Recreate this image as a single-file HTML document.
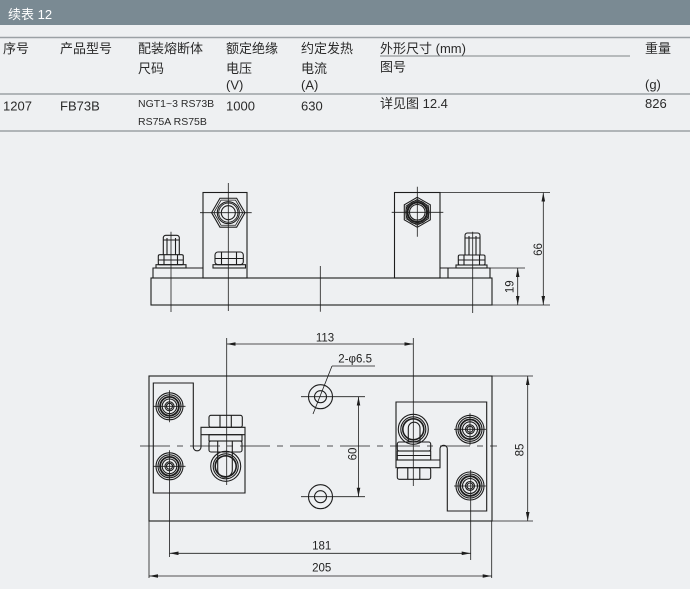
<!DOCTYPE html>
<html><head><meta charset="utf-8"><style>
html,body{margin:0;padding:0;background:#eef0f2;}
svg{display:block;}
.t{font-family:"Liberation Sans","Noto Sans CJK SC",sans-serif;font-size:13px;fill:#2a2a2a;}
.s{font-family:"Liberation Sans","Noto Sans CJK SC",sans-serif;font-size:10.5px;fill:#2a2a2a;}
.d{font-family:"Liberation Sans",sans-serif;font-size:11.5px;fill:#222;}
</style></head><body>
<svg width="690" height="589" viewBox="0 0 690 589" xmlns="http://www.w3.org/2000/svg">
<defs>
<marker id="ar" viewBox="0 0 10 4" refX="10" refY="2" markerWidth="9" markerHeight="3.6" markerUnits="userSpaceOnUse" orient="auto-start-reverse"><path d="M0 0L10 2L0 4Z" fill="#1d1d1d" stroke="none"/></marker>
</defs>
<rect width="690" height="589" fill="#eef0f2"/>
<rect width="690" height="25" fill="#7a8a93"/>
<text x="8" y="19" class="t" style="fill:#fff">续表 12</text>
<line x1="0" y1="37.5" x2="690" y2="37.5" stroke="#9ba1a5" stroke-width="1.5"/>
<line x1="0" y1="94" x2="690" y2="94" stroke="#9ba1a5" stroke-width="1.5"/>
<line x1="0" y1="131" x2="690" y2="131" stroke="#9ba1a5" stroke-width="1.5"/>
<line x1="380" y1="56" x2="630" y2="56" stroke="#7d8387" stroke-width="1"/>

<text x="3" y="53" class="t">序号</text>
<text x="60" y="53" class="t">产品型号</text>
<text x="138" y="53" class="t">配装熔断体</text>
<text x="138" y="73" class="t">尺码</text>
<text x="226" y="53" class="t">额定绝缘</text>
<text x="226" y="73" class="t">电压</text>
<text x="226" y="89.5" class="t">(V)</text>
<text x="301" y="53" class="t">约定发热</text>
<text x="301" y="73" class="t">电流</text>
<text x="301" y="89.5" class="t">(A)</text>
<text x="380" y="53" class="t">外形尺寸 (mm)</text>
<text x="380" y="71.5" class="t">图号</text>
<text x="645" y="53" class="t">重量</text>
<text x="645" y="89" class="t">(g)</text>

<text x="3" y="110.5" class="t">1207</text>
<text x="60" y="110.5" class="t">FB73B</text>
<text x="138" y="107" class="s">NGT1~3 RS73B</text>
<text x="138" y="125" class="s">RS75A RS75B</text>
<text x="226" y="110.5" class="t">1000</text>
<text x="301" y="110.5" class="t">630</text>
<text x="380" y="108" class="t">详见图 12.4</text>
<text x="645" y="108" class="t">826</text>

<g fill="none" stroke="#1d1d1d" stroke-width="1.1">
<!-- TOP VIEW -->
<rect x="151" y="278" width="341" height="27"/>
<path d="M153 278V268H203"/>
<rect x="203" y="192.5" width="44" height="85.5"/>
<rect x="394.5" y="192.5" width="45.5" height="85.5"/>
<path d="M440 268H490V278M448 268V278"/>
<!-- left hex -->
<polygon points="245,212.7 236.65,227.16 219.95,227.16 211.6,212.7 219.95,198.24 236.65,198.24"/>
<polygon points="242.8,212.7 235.55,225.26 221.05,225.26 213.8,212.7 221.05,200.14 235.55,200.14" stroke-width="0.8"/>
<circle cx="228.3" cy="212.7" r="11"/>
<circle cx="228.3" cy="212.7" r="9.6" stroke-width="0.9"/>
<circle cx="228.3" cy="212.7" r="7"/>
<!-- right hex -->
<polygon points="417.3,197.3 430.3,204.8 430.3,219.8 417.3,227.3 404.3,219.8 404.3,204.8"/>
<polygon points="417.3,199.3 428.56,205.8 428.56,218.8 417.3,225.3 406.04,218.8 406.04,205.8" stroke-width="0.8"/>
<circle cx="417.3" cy="212.3" r="11.5"/>
<circle cx="417.3" cy="212.3" r="9.8" stroke-width="2"/>
<circle cx="417.3" cy="212.3" r="7.8"/>
<!-- left bolt -->
<path d="M163.3 254.7V238a2.5 2.5 0 0 1 2.5-2.7h11a2.5 2.5 0 0 1 2.5 2.7V254.7M167 238V254.7M175.5 238V254.7M163.3 240H179.3"/>
<rect x="158.3" y="254.7" width="25" height="10" rx="1.5"/>
<path d="M164 254.7V264.7M177.5 254.7V264.7M158.3 260H183.3"/>
<rect x="156" y="264.7" width="30" height="3.3"/>
<!-- middle nut -->
<rect x="215" y="252" width="28.3" height="12.7" rx="3"/>
<path d="M221.5 252V264.7M236.5 252V264.7M215 258.5H243.3"/>
<rect x="213" y="264.7" width="32.5" height="3.3"/>
<!-- right bolt -->
<path d="M465 255V236a2.5 2.5 0 0 1 2.5-3h10a2.5 2.5 0 0 1 2.5 3V255M469 236V255M476 236V255M465 238H480"/>
<rect x="458.3" y="255" width="26.7" height="10" rx="1.5"/>
<path d="M464 255V265M479.5 255V265M458.3 260H485"/>
<rect x="456" y="265" width="31" height="3"/>
</g>
<g fill="none" stroke="#1d1d1d" stroke-width="0.8">
<path d="M200 212.7H251.7M228.3 183V311M391.7 212.3H443.3M417.3 186.7V236.7M171 231.7V312M320.3 266V311.7M472.7 231.7V313"/>
<path d="M440 192.5H550M492 305H550M490 268H525"/>
<path d="M543.3 192.5V305" marker-start="url(#ar)" marker-end="url(#ar)"/>
<path d="M517.7 268V305" marker-start="url(#ar)" marker-end="url(#ar)"/>
</g>
<text class="d" text-anchor="middle" transform="translate(542,249.5) rotate(-90)">66</text>
<text class="d" text-anchor="middle" transform="translate(513.5,286.7) rotate(-90)">19</text>

<!-- BOTTOM VIEW -->
<g fill="none" stroke="#1d1d1d" stroke-width="1.1">
<rect x="149" y="376" width="343" height="145"/>
<!-- left plate -->
<path d="M153.3 383H193.3V447A3.85 3.85 0 0 0 201 447V427.3H245V493H153.3Z"/>
<path d="M201 434.7H245"/>
<rect x="209" y="415.3" width="33.3" height="12" rx="2"/>
<path d="M220 415.3V427.3M231.3 415.3V427.3"/>
<circle cx="225.7" cy="466.3" r="15"/>
<circle cx="225.7" cy="466.3" r="12.5"/>
<circle cx="225.7" cy="466.3" r="10.5" stroke-width="1.6"/>
<rect x="209" y="434.7" width="33" height="6.3"/>
<rect x="209" y="441" width="33" height="11" rx="2"/>
<path d="M217.7 441V470A7.3 7.3 0 0 0 232.3 470V441"/>
<!-- left studs -->
<g transform="translate(169.5,406.3)"><circle r="13.5"/><circle r="11.5"/><circle r="9.4" stroke-width="1.8"/><circle r="7.3"/><circle r="4.5"/><circle r="3"/></g>
<g transform="translate(169.5,466.3)"><circle r="13.5"/><circle r="11.5"/><circle r="9.4" stroke-width="1.8"/><circle r="7.3"/><circle r="4.5"/><circle r="3"/></g>
<!-- holes -->
<circle cx="320.5" cy="396.7" r="12"/><circle cx="320.5" cy="396.7" r="6"/>
<circle cx="320.5" cy="496.7" r="12"/><circle cx="320.5" cy="496.7" r="6"/>
<!-- right plate -->
<path d="M396 402H486.7V511H447.3V449A3.65 3.65 0 0 0 440 449V467.7H396Z"/>
<path d="M396 460H440"/>
<circle cx="413.3" cy="429.3" r="15"/>
<circle cx="413.3" cy="429.3" r="12.5"/>
<circle cx="413.3" cy="429.3" r="10.5" stroke-width="1.6"/>
<path d="M408.3 442V428A5.85 5.85 0 0 1 420 428V442"/>
<rect x="397.3" y="442" width="33.4" height="9" rx="2"/>
<rect x="397.3" y="451" width="33.4" height="9"/>
<path d="M397.3 455.5H430.7"/>
<rect x="397.3" y="467.7" width="33.4" height="11.6" rx="2"/>
<path d="M407.8 467.7V479.3M419.8 467.7V479.3"/>
<g transform="translate(470,429.3)"><circle r="14"/><circle r="12"/><circle r="9.8" stroke-width="1.8"/><circle r="7.5"/><circle r="4.5"/><circle r="3"/></g>
<g transform="translate(470,486)"><circle r="14"/><circle r="12"/><circle r="9.8" stroke-width="1.8"/><circle r="7.5"/><circle r="4.5"/><circle r="3"/></g>
</g>
<g fill="none" stroke="#1d1d1d" stroke-width="0.8">
<path d="M140 446H497" stroke-dasharray="30 7 6 7"/>
<path d="M153.5 406.3H185.5M169.5 390.3V422.3M153.5 466.3H185.5M169.5 450.3V557"/>
<path d="M454 429.3H486M470 413.3V445.3M454 486H486M470.7 470V560"/>
<path d="M226.7 338V485M413.3 338V486"/>
<path d="M301 396.7H365M301 496.7H365M332 366L313 414M332 366H375"/>
<path d="M226.7 344H413.3" marker-start="url(#ar)" marker-end="url(#ar)"/>
<path d="M358.5 396.7V496.7" marker-start="url(#ar)" marker-end="url(#ar)"/>
<path d="M492 376H533M492 521H533"/>
<path d="M527.7 376V521" marker-start="url(#ar)" marker-end="url(#ar)"/>
<path d="M149 521V578M491.7 521V578"/>
<path d="M169.5 553.3H470.7" marker-start="url(#ar)" marker-end="url(#ar)"/>
<path d="M149 576H491.7" marker-start="url(#ar)" marker-end="url(#ar)"/>
</g>
<text x="325" y="341.5" class="d" text-anchor="middle">113</text>
<text x="338.3" y="362.5" class="d">2-φ6.5</text>
<text class="d" text-anchor="middle" transform="translate(356.7,454) rotate(-90)">60</text>
<text class="d" text-anchor="middle" transform="translate(523.3,450) rotate(-90)">85</text>
<text x="321.7" y="549.7" class="d" text-anchor="middle">181</text>
<text x="321.7" y="571.7" class="d" text-anchor="middle">205</text>
</svg>
</body></html>
